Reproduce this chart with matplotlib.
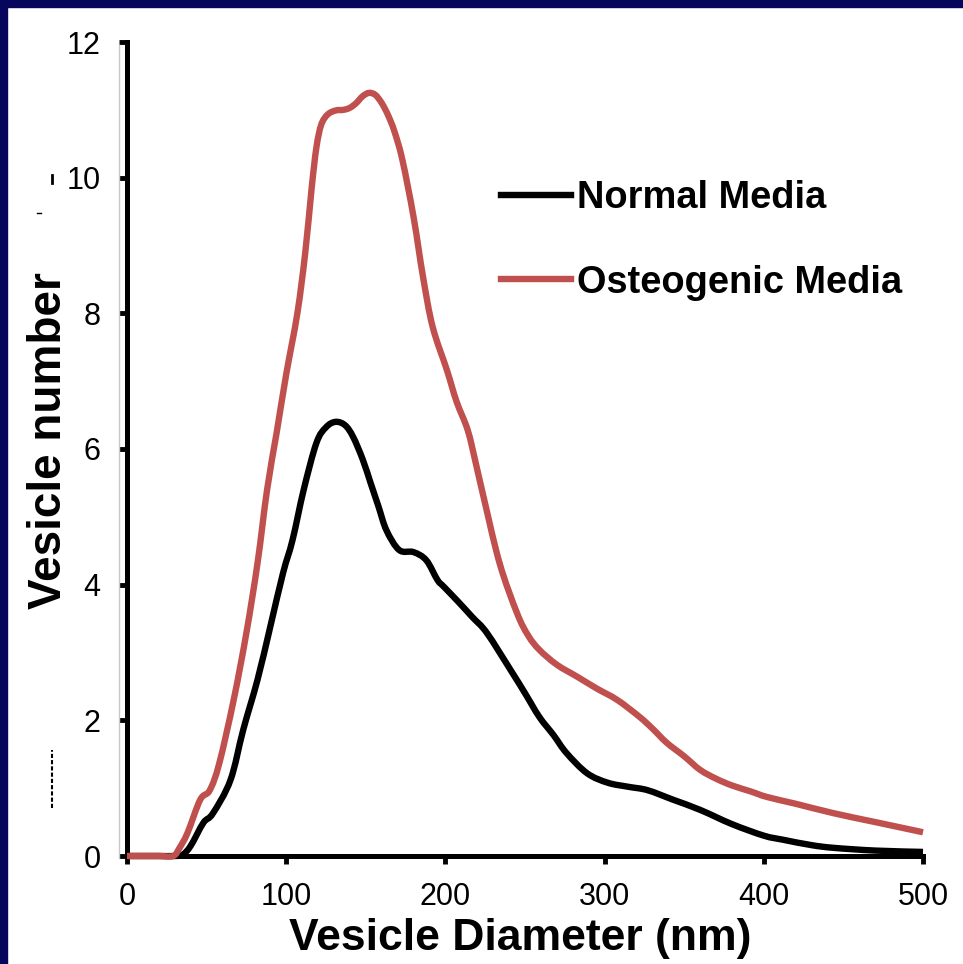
import matplotlib
matplotlib.use("Agg")
import numpy as np
import matplotlib.pyplot as plt
from matplotlib.patches import Rectangle, PathPatch
from matplotlib.path import Path
from matplotlib.lines import Line2D

# ---- data ----
normal_x = [0, 10, 20, 30, 35, 40, 48, 54, 65, 73, 82, 90, 98, 104, 111, 119, 125, 131,
            137, 142, 148, 153, 158, 163, 171, 180, 188, 195, 199, 208, 217, 226, 241,
            250, 259, 268, 276, 289, 302, 315, 327, 343, 360, 380, 400, 412, 430, 444,
            470, 500]
normal_y = [0, 0, 0, 0, 0.02, 0.15, 0.49, 0.63, 1.12, 1.86, 2.6, 3.38, 4.17, 4.66, 5.4,
            6.09, 6.32, 6.4, 6.35, 6.18, 5.85, 5.5, 5.15, 4.8, 4.51, 4.48, 4.36, 4.07,
            3.97, 3.75, 3.52, 3.29, 2.74, 2.4, 2.05, 1.78, 1.52, 1.22, 1.08, 1.02, 0.97,
            0.83, 0.68, 0.47, 0.3, 0.24, 0.16, 0.12, 0.08, 0.06]

osteo_x = [0, 10, 20, 29, 33, 38, 46, 52, 58, 67, 75, 82, 88, 94, 100, 107, 112, 116,
           119, 122, 126, 131, 136, 140, 144, 148, 152, 156, 160, 164, 168, 173, 180,
           186, 192, 201, 207, 214, 219, 224, 234, 245, 252, 259, 270, 283, 295, 308,
           322, 330, 339, 350, 360, 370, 380, 392, 402, 420, 444, 470, 500]
osteo_y = [0, 0, 0, 0, 0.12, 0.34, 0.83, 0.97, 1.37, 2.3, 3.29, 4.32, 5.4, 6.24, 7.1,
           8.0, 8.9, 9.85, 10.45, 10.78, 10.93, 10.99, 11.0, 11.03, 11.1, 11.2, 11.25,
           11.22, 11.1, 10.92, 10.68, 10.26, 9.42, 8.53, 7.8, 7.16, 6.7, 6.28, 5.8, 5.29,
           4.32, 3.58, 3.25, 3.04, 2.82, 2.64, 2.47, 2.3, 2.05, 1.88, 1.67, 1.47, 1.27,
           1.14, 1.04, 0.95, 0.87, 0.77, 0.63, 0.5, 0.35]

series_labels = ["Normal Media", "Osteogenic Media"]
x_ticks = [0, 100, 200, 300, 400, 500]
y_ticks = [0, 2, 4, 6, 8, 10, 12]

plt.rcParams['font.family'] = ['Liberation Sans', 'DejaVu Sans']


def smooth_path(xs, ys, t=0.17):
    """Excel-style smoothed line: cubic Bezier segments through the data points."""
    xs = np.asarray(xs, float)
    ys = np.asarray(ys, float)
    n = len(xs)
    verts = [(xs[0], ys[0])]
    codes = [Path.MOVETO]
    for i in range(n - 1):
        p0 = np.array([xs[max(i - 1, 0)], ys[max(i - 1, 0)]])
        p1 = np.array([xs[i], ys[i]])
        p2 = np.array([xs[i + 1], ys[i + 1]])
        p3 = np.array([xs[min(i + 2, n - 1)], ys[min(i + 2, n - 1)]])
        c1 = p1 + (p2 - p0) * t
        c2 = p2 - (p3 - p1) * t
        verts += [tuple(c1), tuple(c2), tuple(p2)]
        codes += [Path.CURVE4] * 3
    return Path(verts, codes)


fig = plt.figure(figsize=(9.63, 9.64), dpi=100)
fig.patch.set_facecolor('white')

W, H = 963.0, 964.0
ax = fig.add_axes([127 / W, 1 - 856 / H, (923 - 127) / W, (856 - 42) / H])

navy = '#06065c'
fig.patches.append(Rectangle((0, 0), 7 / W, 1, transform=fig.transFigure,
                             color=navy, zorder=0))
fig.patches.append(Rectangle((0, 1 - 7 / H), 1, 7 / H, transform=fig.transFigure,
                             color=navy, zorder=0))
# faint grey guide line left of the y-axis and small stray marks
fig.lines.append(Line2D([119 / W, 119 / W], [1 - 858 / H, 1 - 45 / H],
                        transform=fig.transFigure, color='#c8c8c8', lw=1.0))
fig.lines.append(Line2D([52 / W, 52 / W], [1 - 183 / H, 1 - 175 / H],
                        transform=fig.transFigure, color='black', lw=2.0))
fig.lines.append(Line2D([37 / W, 41 / W], [1 - 213 / H, 1 - 213 / H],
                        transform=fig.transFigure, color='black', lw=1.0))
fig.lines.append(Line2D([52 / W, 52 / W], [1 - 808 / H, 1 - 750 / H],
                        transform=fig.transFigure, color='black', lw=1.5,
                        linestyle=(0, (2, 1))))

red = '#c0504d'
lw = 4.6
for xs, ys, col, z in [(normal_x, normal_y, 'black', 3), (osteo_x, osteo_y, red, 4)]:
    pp = PathPatch(smooth_path(xs, ys), facecolor='none', edgecolor=col, lw=lw,
                   capstyle='butt', joinstyle='round', clip_on=False, zorder=z)
    ax.add_patch(pp)

# legend proxies
h1 = Line2D([], [], color='black', lw=lw)
h2 = Line2D([], [], color=red, lw=lw)

ax.set_xlim(0, 500)
ax.set_ylim(0, 12)
ax.set_xticks(x_ticks)
ax.set_yticks(y_ticks)
ax.set_xticklabels([str(v) for v in x_ticks])
ax.set_yticklabels([str(v) for v in y_ticks])

for s in ['top', 'right']:
    ax.spines[s].set_visible(False)
for s in ['left', 'bottom']:
    ax.spines[s].set_linewidth(3.6)
    ax.spines[s].set_color('black')

ax.tick_params(axis='both', direction='out', length=6, width=3.5, color='black',
               labelsize=22, pad=13)

ax.set_xlabel('Vesicle Diameter (nm)', fontsize=32, fontweight='bold')
ax.xaxis.set_label_coords(0.494, -0.076)
ax.set_ylabel('Vesicle number', fontsize=33, fontweight='bold')
ax.yaxis.set_label_coords(-0.070, 0.51)

leg = ax.legend([h1, h2], series_labels, loc='upper left',
                bbox_to_anchor=(0.47, 0.830), frameon=False,
                prop={'weight': 'bold', 'size': 27.4},
                handlelength=1.84, handletextpad=0.16, labelspacing=1.27,
                borderaxespad=0, borderpad=0)

fig.savefig('out.png', dpi=100, facecolor='white')
